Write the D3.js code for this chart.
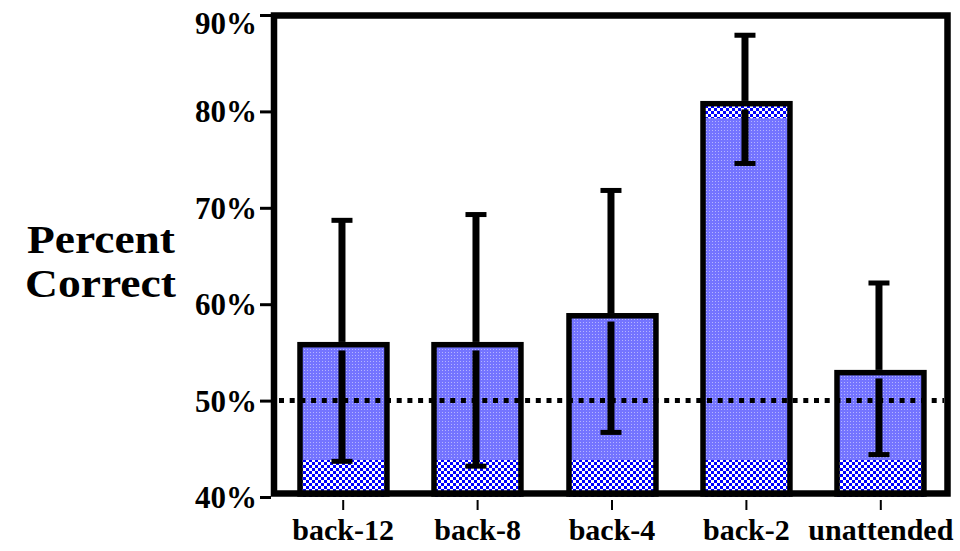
<!DOCTYPE html>
<html>
<head>
<meta charset="utf-8">
<script src="https://cdn.jsdelivr.net/npm/d3@7"></script>
<style>
  html, body { margin: 0; padding: 0; background: #fff; }
  svg { display: block; }
  svg text { font-family: "Liberation Serif", "Times New Roman", Tinos, serif !important; font-weight: 700; fill: #000; }
</style>
</head>
<body>
<svg id="chart" width="960" height="551"></svg>
<script>
// ---- data ----
const categories = ["back-12", "back-8", "back-4", "back-2", "unattended"];
const percentCorrect = [55.8, 55.8, 58.8, 80.8, 52.9];
const errorUpper = [68.7, 69.3, 71.8, 87.9, 62.2];
const errorLower = [43.7, 43.2, 46.7, 74.6, 44.4];
const yTicks = [40, 50, 60, 70, 80, 90];
const chanceLevel = 50;
const axisTitle = ["Percent", "Correct"];
const checkerBottomTop = 43.8;                 // checker band at base of every bar
const checkerTopBottom = [null, null, null, 79.3, null]; // checker band under top of bar

// ---- layout ----
const svg = d3.select("#chart");
const y = d3.scaleLinear().domain([40, 90]).range([497, 15]);
const x = d3.scaleBand().domain(categories).range([276, 948])
  .paddingInner(0.353).paddingOuter(0.1765);

const defs = svg.append("defs");
const dots = defs.append("pattern").attr("id", "dots")
  .attr("patternUnits", "userSpaceOnUse").attr("width", 3).attr("height", 3);
dots.append("rect").attr("width", 3).attr("height", 3).attr("fill", "#7474ff").attr("shape-rendering", "crispEdges");
dots.append("rect").attr("x", 1).attr("y", 1).attr("width", 1).attr("height", 1).attr("fill", "#b4b4ff").attr("shape-rendering", "crispEdges");

const checker = defs.append("pattern").attr("id", "checker")
  .attr("patternUnits", "userSpaceOnUse").attr("width", 6).attr("height", 6);
checker.append("rect").attr("width", 6).attr("height", 6).attr("fill", "#fff").attr("shape-rendering", "crispEdges");
checker.append("rect").attr("x", 0).attr("y", 0).attr("width", 3).attr("height", 3).attr("fill", "#0000ff").attr("shape-rendering", "crispEdges");
checker.append("rect").attr("x", 3).attr("y", 3).attr("width", 3).attr("height", 3).attr("fill", "#0000ff").attr("shape-rendering", "crispEdges");

const data = categories.map((c, i) => ({
  c, v: percentCorrect[i], hi: errorUpper[i], lo: errorLower[i], topBand: checkerTopBottom[i]
}));

const bw = x.bandwidth();
const sw = 5.5;

// bars
const bars = svg.append("g");
data.forEach(d => {
  const x0 = Math.round(x(d.c));
  const g = bars.append("g");
  g.append("rect")
    .attr("x", x0).attr("y", y(d.v))
    .attr("width", bw).attr("height", y(40) - 3 - y(d.v))
    .attr("fill", "#7a7aff");
  g.append("rect")
    .attr("x", x0).attr("y", y(d.v))
    .attr("width", bw).attr("height", y(40) - 3 - y(d.v))
    .attr("fill", "url(#dots)");
  g.append("rect")
    .attr("x", x0).attr("y", Math.round(y(checkerBottomTop)))
    .attr("width", bw).attr("height", y(40) - Math.round(y(checkerBottomTop)))
    .attr("fill", "url(#checker)");
  if (d.topBand != null) {
    g.append("rect")
      .attr("x", x0).attr("y", y(d.v))
      .attr("width", bw).attr("height", y(d.topBand) - y(d.v))
      .attr("fill", "url(#checker)");
  }
  g.append("rect")
    .attr("x", x0).attr("y", y(d.v))
    .attr("width", bw).attr("height", y(40) - 3 - y(d.v))
    .attr("fill", "none").attr("stroke", "#000").attr("stroke-width", sw);
});

// frame
svg.append("rect")
  .attr("x", 274).attr("y", y(90) + 0.5)
  .attr("width", 673.5).attr("height", y(40) - 3.5 - y(90) - 0.5)
  .attr("fill", "none").attr("stroke", "#000").attr("stroke-width", 6.5);

// y axis ticks + labels
const yAxis = d3.axisLeft(y).tickValues(yTicks)
  .tickFormat(d => d + "%").tickSize(11).tickPadding(3);
const yg = svg.append("g").attr("transform", "translate(271,0)").call(yAxis);
yg.attr("font-family", null).attr("font-size", null);
yg.select(".domain").remove();
yg.selectAll(".tick line").attr("stroke", "#000").attr("stroke-width", 3);
yg.selectAll(".tick text")
  .style("font-size", "31px")
  .attr("dy", null)
  .attr("dominant-baseline", "central")
  .attr("y", d => Math.max(0, 22.5 - y(d)));

// x axis ticks + labels
const xAxis = d3.axisBottom(x).tickSize(12).tickPadding(0);
const xg = svg.append("g").attr("transform", "translate(0,498)").call(xAxis);
xg.attr("font-family", null).attr("font-size", null);
xg.select(".domain").remove();
xg.selectAll(".tick line").attr("stroke", "#000").attr("stroke-width", 2).attr("y1", 2);
xg.selectAll(".tick text")
  .style("font-size", "30px")
  .attr("dy", null)
  .attr("y", 42);

// chance line
svg.append("line")
  .attr("x1", 279).attr("x2", 944)
  .attr("y1", y(chanceLevel)).attr("y2", y(chanceLevel))
  .attr("stroke", "#000").attr("stroke-width", 5)
  .attr("stroke-dasharray", "5,5.7");

// error bars
const eb = svg.append("g");
data.forEach(d => {
  const cx = Math.round(x(d.c)) + bw / 2 - 1.5;
  eb.append("line").attr("x1", cx).attr("x2", cx)
    .attr("y1", y(d.hi)).attr("y2", y(d.v) - sw / 2)
    .attr("stroke", "#000").attr("stroke-width", 7);
  eb.append("line").attr("x1", cx).attr("x2", cx)
    .attr("y1", y(d.v) + sw / 2 + 3).attr("y2", y(d.lo))
    .attr("stroke", "#000").attr("stroke-width", 7);
  [d.hi, d.lo].forEach(v => {
    eb.append("rect").attr("x", cx - 10.5).attr("y", y(v) - 2.5)
      .attr("width", 21).attr("height", 5).attr("fill", "#000");
  });
});

// y-axis title
const title = svg.append("text").attr("text-anchor", "middle").style("font-size", "41px");
title.append("tspan").attr("x", 101).attr("y", 253)
  .attr("textLength", 148).attr("lengthAdjust", "spacingAndGlyphs").text(axisTitle[0]);
title.append("tspan").attr("x", 100.5).attr("y", 297)
  .attr("textLength", 151).attr("lengthAdjust", "spacingAndGlyphs").text(axisTitle[1]);
</script>
</body>
</html>
